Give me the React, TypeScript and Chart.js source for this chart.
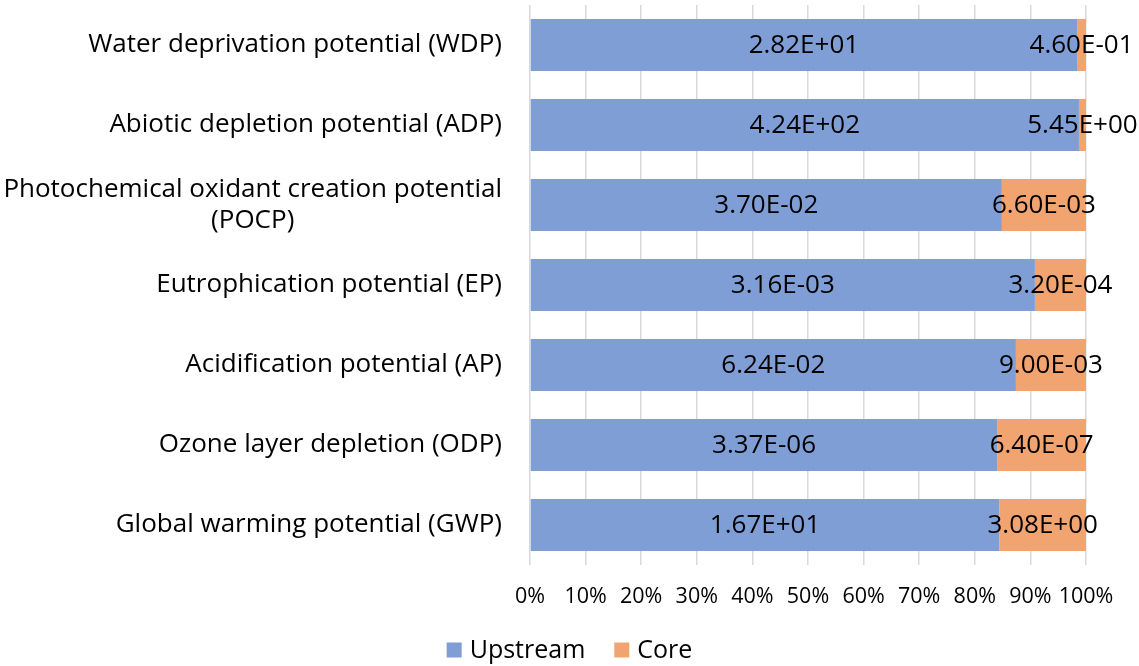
import React, { useEffect, useRef } from 'react';
import { Chart, registerables } from 'chart.js';

Chart.register(...registerables);

const categories: (string | string[])[] = [
  'Water deprivation potential (WDP)',
  'Abiotic depletion potential (ADP)',
  ['Photochemical oxidant creation potential', '(POCP)'],
  'Eutrophication potential (EP)',
  'Acidification potential (AP)',
  'Ozone layer depletion (ODP)',
  'Global warming potential (GWP)',
];
const upstream = [28.2, 424, 0.037, 0.00316, 0.0624, 3.37e-6, 16.7];
const core = [0.46, 5.45, 0.0066, 0.00032, 0.009, 6.4e-7, 3.08];
const seriesNames = ['Upstream', 'Core'];
const colors = ['#7f9ed5', '#f1a470'];

const FONT = '"Open Sans", "Noto Sans", sans-serif';
const CAT_SIZE = 26;
const VAL_SIZE = 26;
const TICK_SIZE = 21.5;
const LEG_SIZE = 25;
const TEXT_COLOR = '#000';

function fmt(v: number): string {
  const [m, e] = v.toExponential(2).split('e');
  const sign = e[0] === '-' ? '-' : '+';
  const digits = e.replace(/[+-]/, '').padStart(2, '0');
  return m + 'E' + sign + digits;
}

const totals = upstream.map((u, i) => u + core[i]);
const upstreamPct = upstream.map((u, i) => (u / totals[i]) * 100);
const corePct = core.map((c, i) => (c / totals[i]) * 100);
const rawValues = [upstream, core];

const labelPlugin = {
  id: 'customLabels',
  afterDraw(chart: any) {
    const ctx = chart.ctx;
    const yScale = chart.scales.y;
    ctx.save();
    ctx.fillStyle = TEXT_COLOR;
    ctx.textBaseline = 'middle';
    // category labels
    ctx.font = `${CAT_SIZE}px ${FONT}`;
    const rightX = chart.chartArea.left - 28;
    categories.forEach((cat, i) => {
      const y = yScale.getPixelForValue(i);
      if (Array.isArray(cat)) {
        const w0 = ctx.measureText(cat[0]).width;
        const cx = rightX - w0 / 2;
        const lh = 31;
        ctx.textAlign = 'center';
        cat.forEach((line, j) => {
          ctx.fillText(line, cx, y + (j - (cat.length - 1) / 2) * lh);
        });
      } else {
        ctx.textAlign = 'right';
        ctx.fillText(cat, rightX, y);
      }
    });
    // data labels
    ctx.font = `${VAL_SIZE}px ${FONT}`;
    ctx.textAlign = 'center';
    chart.data.datasets.forEach((ds: any, di: number) => {
      const meta = chart.getDatasetMeta(di);
      meta.data.forEach((el: any, i: number) => {
        const p = el.getProps(['x', 'y', 'base'], true);
        const cx = (p.x + p.base) / 2;
        ctx.fillText(fmt(rawValues[di][i]), cx, p.y + 1);
      });
    });
    // legend
    ctx.font = `${LEG_SIZE}px ${FONT}`;
    ctx.textAlign = 'left';
    const box = 15;
    const gapText = 8;
    const gapItem = 29;
    const widths = seriesNames.map((n) => ctx.measureText(n).width);
    const total = widths.reduce((a, w) => a + box + gapText + w, 0) + gapItem * (seriesNames.length - 1);
    let x = chart.width / 2 - total / 2;
    const ly = 650;
    seriesNames.forEach((n, i) => {
      ctx.fillStyle = colors[i];
      ctx.fillRect(x, ly - box / 2, box, box);
      x += box + gapText;
      ctx.fillStyle = TEXT_COLOR;
      ctx.fillText(n, x, ly + 1);
      x += widths[i] + gapItem;
    });
    ctx.restore();
  },
};

export default function App() {
  const ref = useRef<HTMLCanvasElement>(null);
  useEffect(() => {
    document.body.style.margin = '0';
    const chart = new Chart(ref.current!, {
      type: 'bar',
      data: {
        labels: categories.map((c) => (Array.isArray(c) ? c.join(' ') : c)),
        datasets: [
          {
            label: seriesNames[0],
            data: upstreamPct,
            backgroundColor: colors[0],
            barPercentage: 0.65,
            categoryPercentage: 1,
          },
          {
            label: seriesNames[1],
            data: corePct,
            backgroundColor: colors[1],
            barPercentage: 0.65,
            categoryPercentage: 1,
          },
        ],
      },
      options: {
        indexAxis: 'y',
        animation: false,
        responsive: false,
        layout: { padding: { left: 0, right: 53, top: 5, bottom: 0 } },
        scales: {
          x: {
            stacked: true,
            min: 0,
            max: 100,
            afterFit: (s: any) => {
              s.height = 101;
            },
            ticks: {
              stepSize: 10,
              autoSkip: false,
              callback: (v: any) => v + '%',
              color: TEXT_COLOR,
              font: { family: FONT, size: TICK_SIZE },
              padding: 19,
              maxRotation: 0,
            },
            grid: { color: '#d9d9d9', lineWidth: 1.5, drawTicks: false },
            border: { display: false },
          },
          y: {
            stacked: true,
            afterFit: (s: any) => {
              s.width = 530;
            },
            ticks: { display: false },
            grid: { display: false },
            border: { display: false },
          },
        },
        plugins: {
          tooltip: { enabled: false },
          legend: { display: false },
        },
      },
      plugins: [labelPlugin],
    });
    return () => chart.destroy();
  }, []);
  return (
    <div style={{ width: 1139, height: 666 }}>
      <canvas ref={ref} width={1139} height={666} />
    </div>
  );
}
